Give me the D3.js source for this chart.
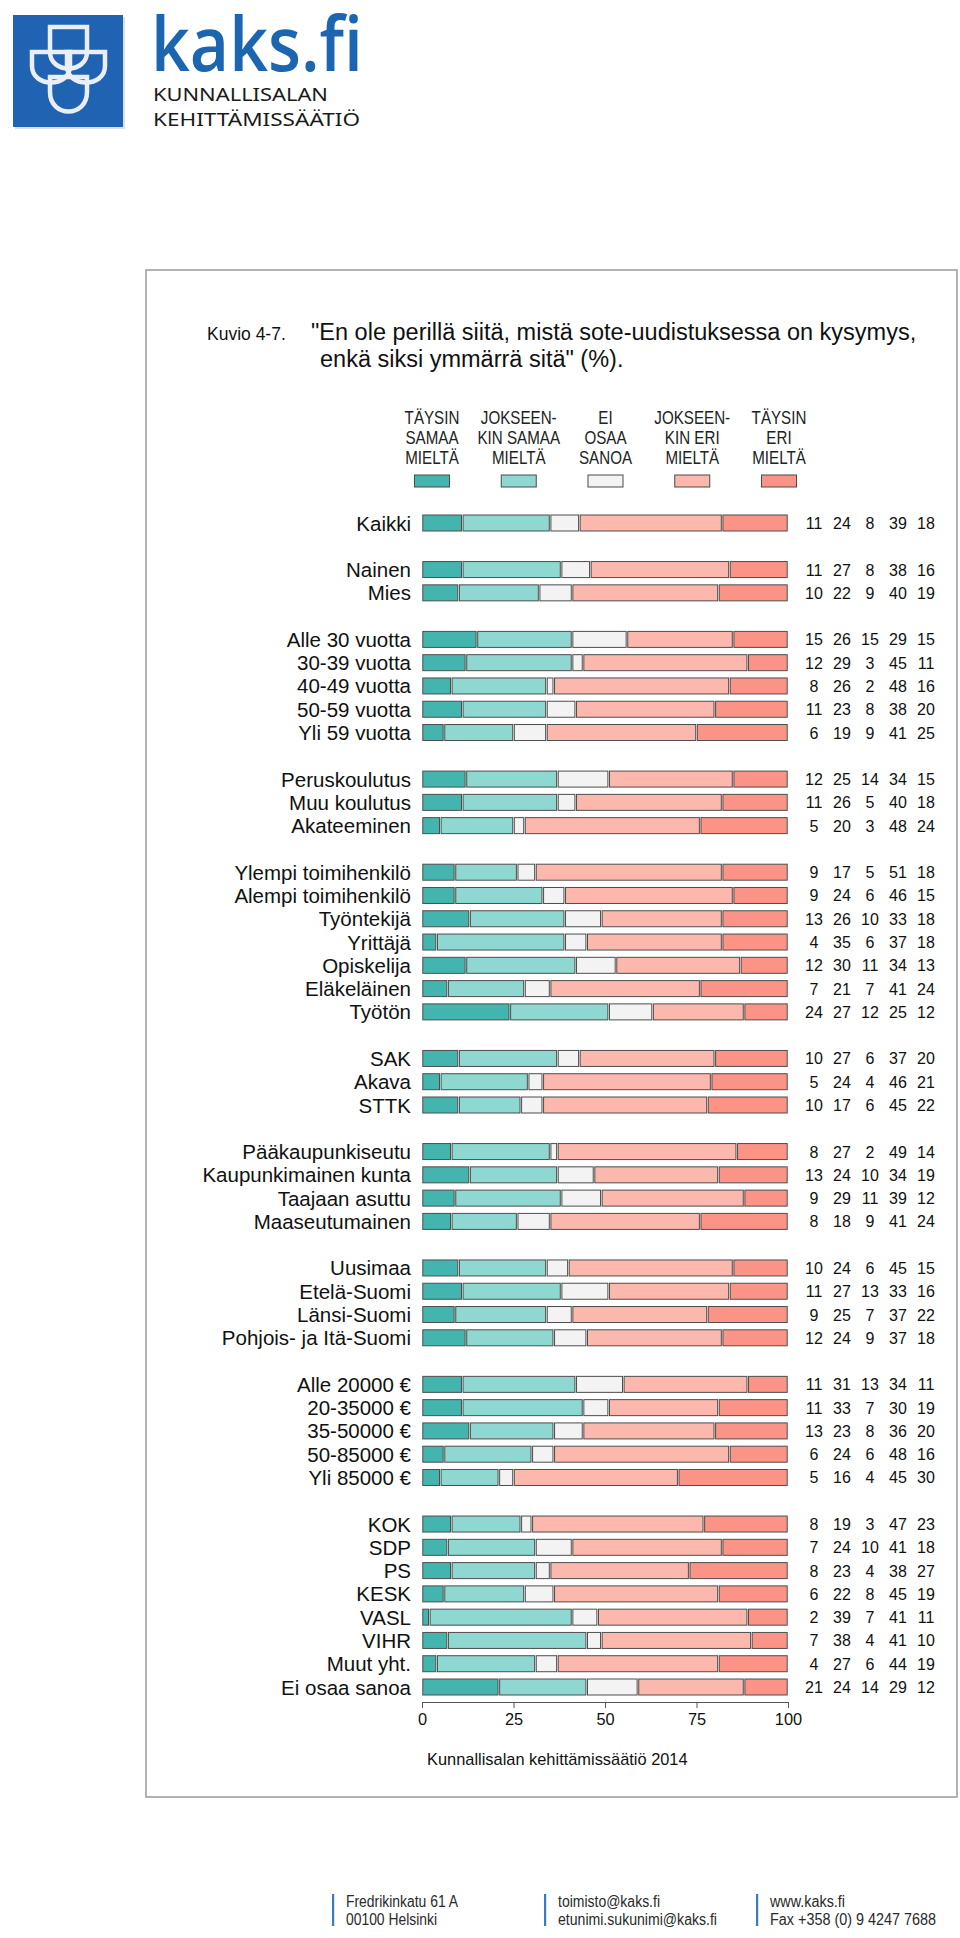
<!DOCTYPE html>
<html>
<head>
<meta charset="utf-8">
<script src="https://cdn.jsdelivr.net/npm/d3@7"></script>
<style>
  body { margin: 0; background: #fff; }
  svg { display: block; font-family: "Liberation Sans", Arial, sans-serif; }
</style>
</head>
<body>
<script>
const w = 960;
const h = 1938;

// rows of the chart, groups are separated by an empty slot
const labels = ["Kaikki",
  "Nainen", "Mies",
  "Alle 30 vuotta", "30-39 vuotta", "40-49 vuotta", "50-59 vuotta", "Yli 59 vuotta",
  "Peruskoulutus", "Muu koulutus", "Akateeminen",
  "Ylempi toimihenkilö", "Alempi toimihenkilö", "Työntekijä", "Yrittäjä", "Opiskelija", "Eläkeläinen", "Työtön",
  "SAK", "Akava", "STTK",
  "Pääkaupunkiseutu", "Kaupunkimainen kunta", "Taajaan asuttu", "Maaseutumainen",
  "Uusimaa", "Etelä-Suomi", "Länsi-Suomi", "Pohjois- ja Itä-Suomi",
  "Alle 20000 €", "20-35000 €", "35-50000 €", "50-85000 €", "Yli 85000 €",
  "KOK", "SDP", "PS", "KESK", "VASL", "VIHR", "Muut yht.", "Ei osaa sanoa"];
const groupSizes = [1, 2, 5, 3, 7, 3, 4, 4, 5, 8];

const taysinSamaa     = [11,11,10,15,12,8,11,6,12,11,5,9,9,13,4,12,7,24,10,5,10,8,13,9,8,10,11,9,12,11,11,13,6,5,8,7,8,6,2,7,4,21];
const jokseenkinSamaa = [24,27,22,26,29,26,23,19,25,26,20,17,24,26,35,30,21,27,27,24,17,27,24,29,18,24,27,25,24,31,33,23,24,16,19,24,23,22,39,38,27,24];
const eiOsaa          = [8,8,9,15,3,2,8,9,14,5,3,5,6,10,6,11,7,12,6,4,6,2,10,11,9,6,13,7,9,13,7,8,6,4,3,10,4,8,7,4,6,14];
const jokseenkinEri   = [39,38,40,29,45,48,38,41,34,40,48,51,46,33,37,34,41,25,37,46,45,49,34,39,41,45,33,37,37,34,30,36,48,45,47,41,38,45,41,41,44,29];
const taysinEri       = [18,16,19,15,11,16,20,25,15,18,24,18,15,18,18,13,24,12,20,21,22,14,19,12,24,15,16,22,18,11,19,20,16,30,23,18,27,19,11,10,19,12];

const legendLabels = [
  ["TÄYSIN", "SAMAA", "MIELTÄ"],
  ["JOKSEEN-", "KIN SAMAA", "MIELTÄ"],
  ["EI", "OSAA", "SANOA"],
  ["JOKSEEN-", "KIN ERI", "MIELTÄ"],
  ["TÄYSIN", "ERI", "MIELTÄ"]];
const colors = ["#44b5ae", "#8fd7d1", "#f3f3f3", "#fdb8ad", "#fb9386"];
const ticks = [0, 25, 50, 75, 100];

const series = [taysinSamaa, jokseenkinSamaa, eiOsaa, jokseenkinEri, taysinEri];

// slot index for each row (one empty slot between groups)
var slotOf = [];
var s = 0;
groupSizes.forEach(function(n) {
  for (var i = 0; i < n; i++) slotOf.push(s++);
  s++;
});
const lastSlot = slotOf[slotOf.length - 1];

const rows = labels.map(function(l, i) {
  var vals = series.map(a => a[i]);
  var cum = 0;
  var segs = vals.map(function(v, k) {
    var seg = { k: k, x0: cum, x1: cum + v, v: v };
    cum += v;
    return seg;
  });
  return { label: l, slot: slotOf[i], vals: vals, segs: segs };
});

var svg = d3.select("body").append("svg")
  .attr("width", w).attr("height", h);

// ---- logo ----
var logo = svg.append("g");
logo.append("rect").attr("x", 15).attr("y", 17).attr("width", 110).attr("height", 112)
  .attr("fill", "#c9c9c9").attr("opacity", 0.6);
logo.append("rect").attr("x", 13).attr("y", 15).attr("width", 110).attr("height", 112)
  .attr("fill", "#1f63b2");
// emblem: four interlocking shield outlines
function shield(x0, y0, x1, y1, yc) {
  return "M" + x0 + "," + y0 + "H" + x1 + "V" + yc +
    "C" + x1 + "," + (y1 + 2) + " " + x0 + "," + (y1 + 2) + " " + x0 + "," + yc + "Z";
}
var shields = [[50, 27, 87, 72, 52], [32, 52, 70, 86, 66], [67, 52, 105, 86, 66], [50, 77, 87, 116, 92]];
logo.selectAll("path.shield").data(shields).join("path")
  .attr("class", "shield")
  .attr("d", d => shield(d[0], d[1], d[2], d[3], d[4]))
  .attr("fill", "none").attr("stroke", "#e9eef7").attr("stroke-width", 4.5);

logo.append("text").attr("x", 151).attr("y", 71)
  .attr("font-family", "'Open Sans', 'Noto Sans', sans-serif").attr("font-weight", 600)
  .attr("font-size", 76).attr("fill", "#1c65b1")
  .attr("textLength", 212).attr("lengthAdjust", "spacingAndGlyphs")
  .text("kaks.fi");
logo.append("text").attr("x", 153).attr("y", 101)
  .attr("font-family", "'Noto Sans', sans-serif").attr("font-size", 18).attr("fill", "#1a1a1a")
  .attr("textLength", 175).attr("lengthAdjust", "spacingAndGlyphs")
  .text("KUNNALLISALAN");
logo.append("text").attr("x", 153).attr("y", 126)
  .attr("font-family", "'Noto Sans', sans-serif").attr("font-size", 18).attr("fill", "#1a1a1a")
  .attr("textLength", 207).attr("lengthAdjust", "spacingAndGlyphs")
  .text("KEHITTÄMISSÄÄTIÖ");

// ---- frame ----
svg.append("rect").attr("x", 146).attr("y", 270).attr("width", 811).attr("height", 1527)
  .attr("fill", "none").attr("stroke", "#9a9a9a").attr("stroke-width", 1.5);

// ---- title ----
svg.append("text").attr("x", 207).attr("y", 340).attr("font-size", 17.5).attr("fill", "#111")
  .text("Kuvio 4-7.");
svg.append("text").attr("x", 311).attr("y", 340).attr("font-size", 23.5).attr("fill", "#111")
  .text("\"En ole perillä siitä, mistä sote-uudistuksessa on kysymys,");
svg.append("text").attr("x", 320).attr("y", 367).attr("font-size", 23.5).attr("fill", "#111")
  .text("enkä siksi ymmärrä sitä\" (%).");

// ---- scales ----
const x = d3.scaleLinear().domain([0, 100]).range([422, 788]);
const y = d3.scaleLinear().domain([0, lastSlot]).range([523, 1687]);
const barH = 16;
const numX = d3.scalePoint().domain(d3.range(5)).range([814, 926]);

// ---- legend ----  (narrow type: regular face squeezed horizontally)
const legX = d3.scalePoint().domain(d3.range(5)).range([432, 779]);
var leg = svg.append("g").selectAll("g").data(legendLabels).join("g")
  .attr("transform", (d, i) => "translate(" + legX(i) + ",0)");
leg.append("g").attr("transform", "scale(0.82,1)")
  .selectAll("text").data(d => d).join("text")
  .attr("text-anchor", "middle")
  .attr("font-size", 18.5).attr("fill", "#222")
  .attr("y", (d, j) => 424 + j * 20)
  .text(d => d);
leg.append("rect").attr("x", -17.5).attr("y", 475).attr("width", 35).attr("height", 12)
  .attr("fill", (d, i) => colors[i]).attr("stroke", "#4a4a4a").attr("stroke-width", 1);

// ---- bars ----
var row = svg.append("g").selectAll("g.row").data(rows).join("g")
  .attr("class", "row")
  .attr("transform", d => "translate(0," + y(d.slot) + ")");

row.append("text").attr("x", 411).attr("y", 7.5).attr("text-anchor", "end")
  .attr("font-size", 20.5).attr("fill", "#111")
  .text(d => d.label);

row.selectAll("rect").data(d => d.segs.filter(g => g.v > 0)).join("rect")
  .attr("x", d => x(d.x0) + 0.8)
  .attr("y", -barH / 2)
  .attr("width", d => Math.max(0.5, x(d.x1) - x(d.x0) - 1.6))
  .attr("height", barH)
  .attr("fill", d => colors[d.k])
  .attr("stroke", "#4d4d4d").attr("stroke-width", 1);

row.selectAll("text.num").data(d => d.vals).join("text")
  .attr("class", "num")
  .attr("x", (d, i) => numX(i)).attr("y", 6)
  .attr("text-anchor", "middle").attr("font-size", 16).attr("fill", "#111")
  .text(d => d);

// ---- axis ----
var axis = svg.append("g").attr("transform", "translate(0,1702)")
  .call(d3.axisBottom(x).tickValues(ticks).tickSize(6).tickSizeOuter(0).tickPadding(5));
axis.select(".domain").attr("stroke", "#555");
axis.selectAll(".tick line").attr("stroke", "#555");
axis.selectAll(".tick text").attr("font-size", 16.4).attr("fill", "#111")
  .attr("font-family", "'Liberation Sans', Arial, sans-serif");

svg.append("text").attr("x", 427).attr("y", 1765).attr("font-size", 16.4).attr("fill", "#111")
  .text("Kunnallisalan kehittämissäätiö 2014");

// ---- footer ----
const footer = [
  { x: 333, lines: ["Fredrikinkatu 61 A", "00100 Helsinki"], lens: [112, 91] },
  { x: 545, lines: ["toimisto@kaks.fi", "etunimi.sukunimi@kaks.fi"], lens: [102, 159] },
  { x: 757, lines: ["www.kaks.fi", "Fax +358 (0) 9 4247 7688"], lens: [75, 166] }];
var foot = svg.append("g").selectAll("g").data(footer).join("g")
  .attr("transform", d => "translate(" + d.x + ",0)");
foot.append("rect").attr("x", -1).attr("y", 1894).attr("width", 2.2).attr("height", 32)
  .attr("fill", "#3b7cc0");
foot.selectAll("text").data(d => d.lines.map((l, i) => ({ t: l, len: d.lens[i] }))).join("text")
  .attr("x", 13).attr("y", (d, i) => 1907 + i * 18)
  .attr("font-family", "'Liberation Sans Narrow', 'Arial Narrow', sans-serif")
  .attr("font-size", 16).attr("fill", "#2a2a2a")
  .attr("textLength", d => d.len).attr("lengthAdjust", "spacingAndGlyphs")
  .text(d => d.t);
</script>
</body>
</html>
